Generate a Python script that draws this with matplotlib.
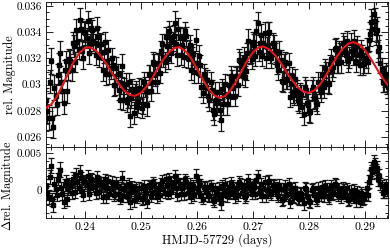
import matplotlib
matplotlib.use('Agg')
import matplotlib.pyplot as plt
from matplotlib.ticker import MultipleLocator, FuncFormatter
import numpy as np

plt.rcParams['font.family'] = ['cmr10', 'DejaVu Serif']
plt.rcParams['mathtext.fontset'] = 'cm'
plt.rcParams['axes.formatter.use_mathtext'] = True

# observation times (HMJD - 57729), first set
times_a = [
	0.23310, 0.23351, 0.23392, 0.23433, 0.23474, 0.23515, 0.23556, 0.23597, 0.23638, 0.23679,
	0.23720, 0.23761, 0.23802, 0.23843, 0.23884, 0.23925, 0.23966, 0.24007, 0.24048, 0.24089,
	0.24130, 0.24171, 0.24212, 0.24253, 0.24294, 0.24335, 0.24376, 0.24417, 0.24458, 0.24499,
	0.24540, 0.24581, 0.24622, 0.24663, 0.24704, 0.24745, 0.24786, 0.24827, 0.24868, 0.24909,
	0.24950, 0.24991, 0.25032, 0.25073, 0.25114, 0.25155, 0.25196, 0.25237, 0.25278, 0.25319,
	0.25360, 0.25401, 0.25442, 0.25483, 0.25524, 0.25565, 0.25606, 0.25647, 0.25688, 0.25729,
	0.25770, 0.25811, 0.25852, 0.25893, 0.25934, 0.25975, 0.26016, 0.26057, 0.26098, 0.26139,
	0.26180, 0.26221, 0.26262, 0.26303, 0.26344, 0.26385, 0.26426, 0.26467, 0.26508, 0.26549,
	0.26590, 0.26631, 0.26672, 0.26713, 0.26754, 0.26795, 0.26836, 0.26877, 0.26918, 0.26959,
	0.27000, 0.27041, 0.27082, 0.27123, 0.27164, 0.27205, 0.27246, 0.27287, 0.27328, 0.27369,
	0.27410, 0.27451, 0.27492, 0.27533, 0.27574, 0.27615, 0.27656, 0.27697, 0.27738, 0.27779,
	0.27820, 0.27861, 0.27902, 0.27943, 0.27984, 0.28025, 0.28066, 0.28107, 0.28148, 0.28189,
	0.28230, 0.28271, 0.28312, 0.28353, 0.28394, 0.28435, 0.28476, 0.28517, 0.28558, 0.28599,
	0.28640, 0.28681, 0.28722, 0.28763, 0.28804, 0.28845, 0.28886, 0.28927, 0.28968, 0.29009,
	0.29050, 0.29091, 0.29132, 0.29173, 0.29214, 0.29255, 0.29296, 0.29337, 0.29378, 0.29419,
]

# relative magnitude, first set
mag_a = [
	0.02885, 0.02747, 0.03179, 0.02677, 0.02916, 0.03075, 0.03239, 0.02954, 0.03111, 0.02948,
	0.03195, 0.03111, 0.03296, 0.03414, 0.03271, 0.03421, 0.03206, 0.03390, 0.03485, 0.03313,
	0.03415, 0.03314, 0.03431, 0.03212, 0.03312, 0.03247, 0.03080, 0.03263, 0.03124, 0.03146,
	0.02999, 0.03081, 0.02886, 0.03145, 0.02974, 0.02870, 0.03017, 0.02899, 0.02785, 0.02956,
	0.02867, 0.02966, 0.02853, 0.02982, 0.02844, 0.03071, 0.03017, 0.03157, 0.03018, 0.03157,
	0.03255, 0.03213, 0.03366, 0.03199, 0.03365, 0.03328, 0.03470, 0.03224, 0.03364, 0.03304,
	0.03212, 0.03367, 0.03263, 0.03110, 0.03231, 0.03340, 0.03088, 0.03146, 0.02934, 0.03044,
	0.03034, 0.02880, 0.02959, 0.02779, 0.02881, 0.02943, 0.02733, 0.02849, 0.03007, 0.02915,
	0.02914, 0.03039, 0.02917, 0.03067, 0.03190, 0.03073, 0.03205, 0.03107, 0.03336, 0.03242,
	0.03327, 0.03222, 0.03467, 0.03317, 0.03220, 0.03397, 0.03288, 0.03399, 0.03203, 0.03295,
	0.03255, 0.03111, 0.03187, 0.03020, 0.03172, 0.03045, 0.02909, 0.03063, 0.02921, 0.02960,
	0.02863, 0.02920, 0.02776, 0.02962, 0.02848, 0.02793, 0.02981, 0.02901, 0.02850, 0.02979,
	0.03074, 0.02980, 0.03098, 0.03008, 0.03199, 0.03138, 0.03278, 0.03165, 0.03239, 0.03314,
	0.03249, 0.03335, 0.03205, 0.03259, 0.03333, 0.03175, 0.03228, 0.03263, 0.03155, 0.03205,
	0.03170, 0.03385, 0.03426, 0.03487, 0.03418, 0.03290, 0.03121, 0.03017, 0.03083, 0.02982,
]

# residuals, first set (units of 1e-5 mag)
resid_a = [
	60, -90, 330, -200, 20, 150, 280, -40, 80, -120,
	90, -30, 120, 210, 40, 170, -60, 110, 200, 30,
	140, 50, 180, -20, 100, 60, -80, 130, 20, 70,
	-40, 60, -110, 170, 20, -70, 90, -20, -130, 40,
	-60, 30, -100, 10, -150, 50, -30, 80, -90, 20,
	90, 20, 150, -40, 110, 60, 190, -60, 80, 30,
	-50, 120, 40, -90, 60, 200, -20, 70, -110, 30,
	50, -80, 20, -140, -30, 40, -170, -60, 90, -20,
	-40, 60, -90, 30, 120, -30, 70, -60, 140, 20,
	80, -40, 190, 30, -70, 110, 10, 130, -50, 60,
	40, -80, 20, -120, 60, -40, -150, 30, -90, -30,
	-110, -40, -170, 20, -90, -150, 30, -60, -130, -20,
	50, -70, 20, -100, 60, -30, 80, -60, -10, 40,
	-40, 30, -110, -60, 10, -140, -80, -30, -120, -50,
	-60, 180, 250, 340, 300, 200, 60, -20, 70, -10,
]

# error bars, first set (units of 1e-5 mag)
err_a = [
	90, 95, 100, 85, 90, 80, 95, 85, 80, 90,
	75, 80, 85, 90, 75, 80, 85, 90, 80, 75,
	80, 75, 85, 80, 75, 80, 85, 75, 80, 75,
	75, 80, 75, 85, 75, 80, 75, 80, 85, 75,
	80, 75, 80, 75, 85, 75, 80, 75, 80, 75,
	75, 80, 75, 80, 85, 75, 90, 80, 75, 80,
	80, 75, 80, 75, 80, 85, 75, 80, 75, 80,
	75, 80, 75, 85, 80, 75, 85, 80, 75, 80,
	80, 75, 80, 75, 80, 75, 80, 75, 85, 80,
	75, 80, 85, 75, 80, 80, 75, 80, 75, 80,
	80, 75, 80, 75, 80, 75, 80, 75, 80, 75,
	80, 75, 85, 75, 80, 85, 75, 80, 75, 80,
	75, 80, 75, 80, 75, 80, 75, 80, 75, 80,
	80, 75, 80, 75, 80, 75, 80, 75, 80, 75,
	80, 90, 95, 100, 95, 85, 80, 75, 80, 85,
]

# second, interleaved set
times_b = [
	0.23330, 0.23371, 0.23412, 0.23453, 0.23494, 0.23535, 0.23576, 0.23617, 0.23658, 0.23699,
	0.23740, 0.23781, 0.23822, 0.23863, 0.23904, 0.23945, 0.23986, 0.24027, 0.24068, 0.24109,
	0.24150, 0.24191, 0.24232, 0.24273, 0.24314, 0.24355, 0.24396, 0.24437, 0.24478, 0.24519,
	0.24560, 0.24601, 0.24642, 0.24683, 0.24724, 0.24765, 0.24806, 0.24847, 0.24888, 0.24929,
	0.24970, 0.25011, 0.25052, 0.25093, 0.25134, 0.25175, 0.25216, 0.25257, 0.25298, 0.25339,
	0.25380, 0.25421, 0.25462, 0.25503, 0.25544, 0.25585, 0.25626, 0.25667, 0.25708, 0.25749,
	0.25790, 0.25831, 0.25872, 0.25913, 0.25954, 0.25995, 0.26036, 0.26077, 0.26118, 0.26159,
	0.26200, 0.26241, 0.26282, 0.26323, 0.26364, 0.26405, 0.26446, 0.26487, 0.26528, 0.26569,
	0.26610, 0.26651, 0.26692, 0.26733, 0.26774, 0.26815, 0.26856, 0.26897, 0.26938, 0.26979,
	0.27020, 0.27061, 0.27102, 0.27143, 0.27184, 0.27225, 0.27266, 0.27307, 0.27348, 0.27389,
	0.27430, 0.27471, 0.27512, 0.27553, 0.27594, 0.27635, 0.27676, 0.27717, 0.27758, 0.27799,
	0.27840, 0.27881, 0.27922, 0.27963, 0.28004, 0.28045, 0.28086, 0.28127, 0.28168, 0.28209,
	0.28250, 0.28291, 0.28332, 0.28373, 0.28414, 0.28455, 0.28496, 0.28537, 0.28578, 0.28619,
	0.28660, 0.28701, 0.28742, 0.28783, 0.28824, 0.28865, 0.28906, 0.28947, 0.28988, 0.29029,
	0.29070, 0.29111, 0.29152, 0.29193, 0.29234, 0.29275, 0.29316, 0.29357, 0.29398,
]

mag_b = [
	0.02801, 0.03023, 0.02743, 0.02977, 0.02851, 0.03152, 0.03017, 0.02863, 0.03180, 0.03107,
	0.03183, 0.03319, 0.03170, 0.03328, 0.03491, 0.03259, 0.03403, 0.03353, 0.03244, 0.03429,
	0.03330, 0.03228, 0.03362, 0.03312, 0.03110, 0.03324, 0.03177, 0.03079, 0.03200, 0.02998,
	0.03130, 0.02959, 0.03016, 0.02885, 0.03007, 0.02894, 0.02763, 0.02967, 0.02926, 0.02832,
	0.02972, 0.02825, 0.03023, 0.02953, 0.03078, 0.02954, 0.03172, 0.03073, 0.03163, 0.03091,
	0.03309, 0.03175, 0.03298, 0.03407, 0.03242, 0.03374, 0.03312, 0.03424, 0.03229, 0.03358,
	0.03405, 0.03205, 0.03302, 0.03206, 0.03096, 0.03164, 0.03222, 0.02980, 0.03079, 0.02979,
	0.02912, 0.03020, 0.02809, 0.02945, 0.02857, 0.02803, 0.02966, 0.02923, 0.02856, 0.02995,
	0.03067, 0.02973, 0.03062, 0.02994, 0.03177, 0.03139, 0.03061, 0.03242, 0.03239, 0.03195,
	0.03305, 0.03410, 0.03252, 0.03379, 0.03319, 0.03203, 0.03394, 0.03241, 0.03314, 0.03235,
	0.03153, 0.03249, 0.03024, 0.03146, 0.03039, 0.03162, 0.03016, 0.02942, 0.03041, 0.02882,
	0.02937, 0.02833, 0.02984, 0.02860, 0.02801, 0.02957, 0.02896, 0.02871, 0.03020, 0.02942,
	0.03017, 0.03124, 0.03013, 0.03154, 0.03104, 0.03273, 0.03172, 0.03257, 0.03172, 0.03292,
	0.03227, 0.03180, 0.03317, 0.03231, 0.03269, 0.03292, 0.03151, 0.03224, 0.03165, 0.03273,
	0.03338, 0.03481, 0.03542, 0.03393, 0.03254, 0.03166, 0.03019, 0.03065, 0.03003,
]

resid_b = [
	-30, 180, -120, 90, -60, 210, 40, -150, 130, 20,
	60, 160, -20, 110, 250, 0, 130, 70, -40, 150,
	60, -30, 120, 90, -90, 150, 30, -40, 110, -60,
	100, -50, 30, -80, 60, -40, -160, 50, 10, -90,
	40, -120, 60, -30, 70, -80, 110, -20, 40, -60,
	130, -30, 70, 160, -20, 100, 30, 140, -50, 90,
	150, -30, 90, 20, -60, 40, 130, -80, 50, -20,
	-60, 70, -120, 30, -50, -100, 60, 10, -70, 50,
	100, -20, 40, -60, 90, 20, -90, 60, 30, -40,
	50, 140, -30, 90, 30, -80, 120, -20, 70, 10,
	-50, 70, -130, 20, -60, 90, -30, -80, 40, -100,
	-30, -120, 40, -80, -140, 10, -60, -100, 30, -70,
	-20, 60, -80, 30, -50, 90, -40, 20, -90, 10,
	-70, -130, 0, -90, -50, -20, -150, -60, -100, 30,
	120, 290, 380, 260, 150, 90, -30, 40, 0,
]

err_b = [
	95, 90, 85, 95, 85, 90, 80, 85, 80, 75,
	80, 85, 75, 80, 90, 75, 80, 75, 85, 80,
	75, 80, 75, 85, 80, 75, 80, 75, 80, 85,
	80, 75, 85, 75, 80, 75, 85, 75, 80, 75,
	75, 80, 75, 85, 75, 80, 75, 80, 75, 80,
	80, 75, 85, 80, 75, 80, 75, 85, 80, 75,
	75, 80, 75, 80, 85, 75, 80, 75, 80, 75,
	80, 75, 80, 75, 85, 80, 75, 80, 85, 75,
	75, 80, 75, 80, 75, 85, 80, 75, 80, 75,
	80, 85, 75, 80, 75, 80, 85, 75, 80, 80,
	75, 80, 75, 85, 75, 80, 75, 80, 75, 80,
	75, 80, 75, 80, 85, 75, 80, 75, 80, 75,
	80, 75, 80, 75, 80, 75, 80, 75, 80, 75,
	75, 80, 75, 80, 75, 80, 75, 80, 75, 80,
	85, 95, 100, 90, 85, 80, 75, 80, 75,
]

# fitted model curve
model_t = [
	0.2330, 0.2340, 0.2350, 0.2360, 0.2370, 0.2380, 0.2390, 0.2400, 0.2405, 0.2410,
	0.2420, 0.2430, 0.2440, 0.2450, 0.2460, 0.2470, 0.2480, 0.2488, 0.2490, 0.2500,
	0.2510, 0.2520, 0.2530, 0.2540, 0.2550, 0.2560, 0.2566, 0.2570, 0.2580, 0.2590,
	0.2600, 0.2610, 0.2620, 0.2630, 0.2640, 0.2650, 0.2660, 0.2670, 0.2680, 0.2690,
	0.2700, 0.2710, 0.2716, 0.2720, 0.2730, 0.2740, 0.2750, 0.2760, 0.2770, 0.2780,
	0.2790, 0.2798, 0.2800, 0.2810, 0.2820, 0.2830, 0.2840, 0.2850, 0.2860, 0.2870,
	0.2879, 0.2880, 0.2890, 0.2900, 0.2910, 0.2920, 0.2930, 0.2940, 0.2945,
]
model_mag = [
	0.02822, 0.02851, 0.02912, 0.02996, 0.03087, 0.03175, 0.03242, 0.03279, 0.03285, 0.03282,
	0.03257, 0.03209, 0.03145, 0.03075, 0.03008, 0.02955, 0.02922, 0.02915, 0.02916, 0.02938,
	0.02985, 0.03050, 0.03124, 0.03193, 0.03248, 0.03279, 0.03285, 0.03282, 0.03253, 0.03196,
	0.03121, 0.03042, 0.02970, 0.02920, 0.02900, 0.02913, 0.02958, 0.03026, 0.03107, 0.03185,
	0.03247, 0.03284, 0.03290, 0.03288, 0.03266, 0.03221, 0.03162, 0.03095, 0.03031, 0.02979,
	0.02947, 0.02938, 0.02938, 0.02958, 0.03004, 0.03069, 0.03143, 0.03215, 0.03274, 0.03312,
	0.03323, 0.03323, 0.03305, 0.03261, 0.03199, 0.03128, 0.03058, 0.03000, 0.02979,
]

t = np.array(times_a + times_b)
m = np.array(mag_a + mag_b)
r = np.array(resid_a + resid_b) * 1e-5
e = np.array(err_a + err_b) * 1e-5
order = np.argsort(t)
t, m, r, e = t[order], m[order], r[order], e[order]

fig = plt.figure(figsize=(3.9, 2.48), dpi=100)
ax1 = fig.add_axes([0.118, 0.407, 0.877, 0.585])
ax2 = fig.add_axes([0.118, 0.121, 0.877, 0.286], sharex=ax1)

eb = dict(fmt='s', color='k', ecolor='#151515', ms=2.3, elinewidth=0.9,
	capsize=2.4, capthick=0.9)
ax1.errorbar(t, m, yerr=e, zorder=2, **eb)
ax1.plot(model_t, model_mag, color='#e4141b', lw=1.5, zorder=3)
ax2.errorbar(t, r, yerr=e, **eb)

fmt = FuncFormatter(lambda v, p: '%g' % round(v, 6))

ax1.set_xlim(0.23304, 0.29411)
ax1.set_ylim(0.02524, 0.0363)
ax2.set_ylim(-0.00367, 0.0058)

ax1.yaxis.set_major_locator(MultipleLocator(0.002))
ax1.yaxis.set_minor_locator(MultipleLocator(0.0005))
ax2.yaxis.set_major_locator(MultipleLocator(0.005))
ax2.yaxis.set_minor_locator(MultipleLocator(0.001))
ax2.xaxis.set_major_locator(MultipleLocator(0.01))
ax2.xaxis.set_minor_locator(MultipleLocator(0.002))

for ax in (ax1, ax2):
	ax.yaxis.set_major_formatter(fmt)
	ax.tick_params(which='both', direction='in', top=True, right=True,
		labelsize=8, width=0.6, colors='k', pad=3)
	ax.tick_params(which='major', length=5)
	ax.tick_params(which='minor', length=2.5)
	for s in ax.spines.values():
		s.set_linewidth(0.6)
ax2.xaxis.set_major_formatter(fmt)
ax2.tick_params(axis='x', labelsize=8.5)
ax1.tick_params(labelbottom=False)

ax1.set_ylabel('rel. Magnitude', fontsize=8.8)
ax2.set_ylabel(r'$\Delta$rel. Magnitude', fontsize=8.8)
ax1.yaxis.set_label_coords(-0.089, 0.5)
ax2.yaxis.set_label_coords(-0.089, 0.45)
ax2.set_xlabel('HMJD-57729 (days)', fontsize=9)
ax2.xaxis.set_label_coords(0.5, -0.215)

plt.savefig('out.png', dpi=100)
